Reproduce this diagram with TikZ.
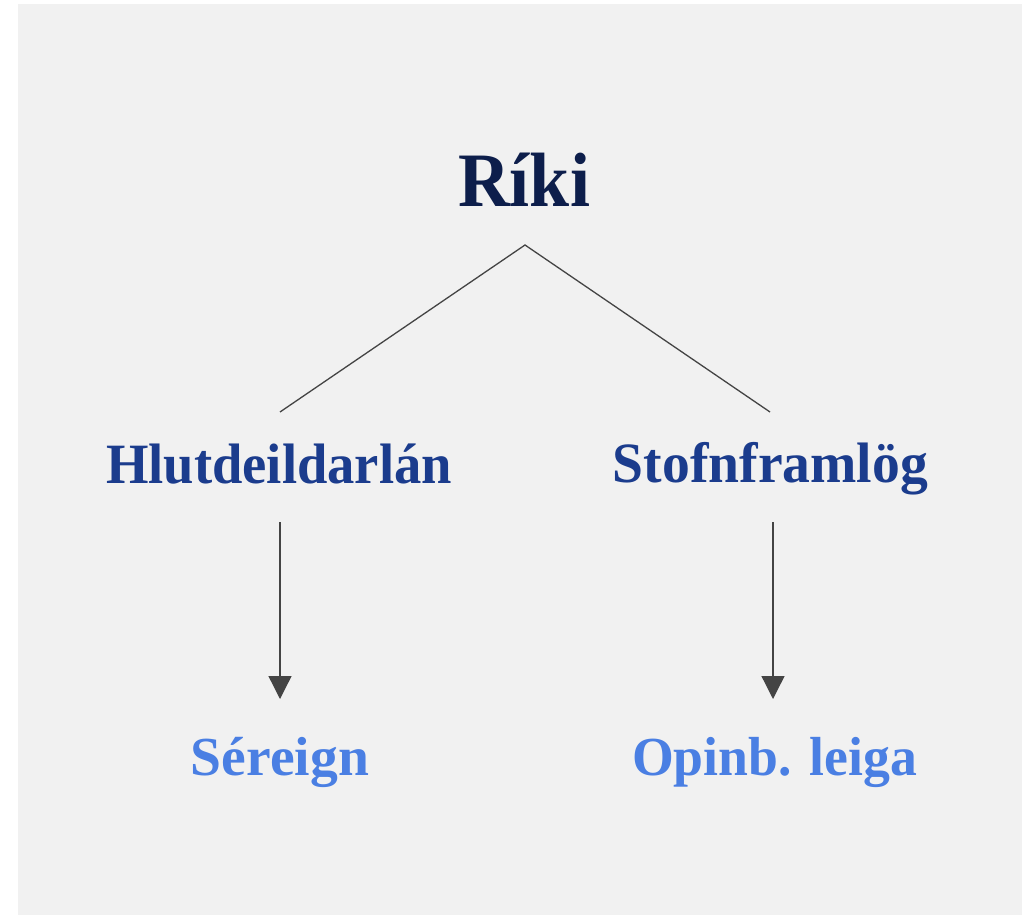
\documentclass[tikz,border=0pt]{standalone}
\usepackage{fontspec}
\usepackage{graphicx}
\setmainfont{Liberation Serif}
\usetikzlibrary{arrows.meta}
\definecolor{bgray}{HTML}{F1F1F1}
\definecolor{cnavy}{HTML}{0D1E4B}
\definecolor{cmid}{HTML}{1B3C8D}
\definecolor{clight}{HTML}{4A7FE3}
\definecolor{cline}{HTML}{444444}
\newcommand{\fitw}[2]{\resizebox{#1}{\height}{#2}}
\tikzset{
  lbl/.style={inner sep=0pt, outer sep=0pt, anchor=base},
  toplbl/.style={lbl, text=cnavy, font=\fontsize{77}{80}\selectfont\bfseries},
  midlbl/.style={lbl, text=cmid, font=\fontsize{57}{60}\selectfont\bfseries},
  lowlbl/.style={lbl, text=clight, font=\fontsize{55}{58}\selectfont\bfseries},
  conn/.style={draw=cline, line width=1.3pt},
  arr/.style={conn, -{Triangle[length=23pt,width=23pt]}, shorten >=0pt}
}
\begin{document}
\begin{tikzpicture}[x=1pt,y=-1pt]
\useasboundingbox (0,0) rectangle (1032,915);
\fill[white] (0,0) rectangle (1032,915);
\fill[bgray] (18,4) rectangle (1022,915);
\node[toplbl] (riki) at (524,206) {\fitw{132pt}{Ríki}};
\node[midlbl] (hlut) at (279,483) {\fitw{346pt}{Hlutdeildarlán}};
\node[midlbl] (stofn) at (770.5,482) {\fitw{315pt}{Stofnframlög}};
\node[lowlbl] (sere) at (280,775) {\fitw{178pt}{Séreign}};
\node[lowlbl] (opin) at (774.5,775) {\fitw{285pt}{Opinb. leiga}};
\coordinate (apex) at ([yshift=-39pt,xshift=1pt]riki.base);
\coordinate (hlutin) at ([xshift=1pt,yshift=71pt]hlut.base);
\coordinate (stofnin) at ([xshift=-0.5pt,yshift=70pt]stofn.base);
\coordinate (hlutout) at ([xshift=1pt,yshift=-39pt]hlut.base);
\coordinate (stofnout) at ([xshift=2.5pt,yshift=-40pt]stofn.base);
\coordinate (serein) at ([yshift=76pt]sere.base);
\coordinate (opinin) at ([xshift=-1.5pt,yshift=76pt]opin.base);
\draw[conn] (hlutin) -- (apex) -- (stofnin);
\draw[arr] (hlutout) -- (serein);
\draw[arr] (stofnout) -- (opinin);
\end{tikzpicture}
\end{document}
